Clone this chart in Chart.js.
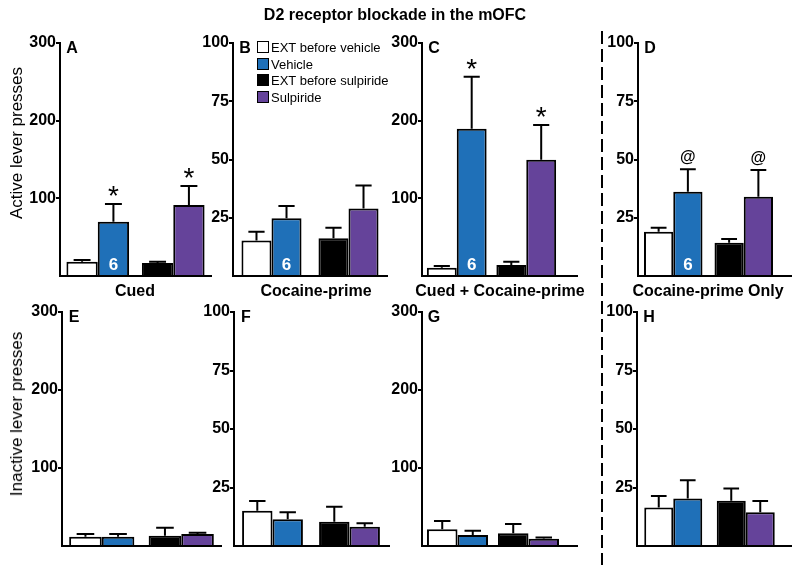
<!DOCTYPE html>
<html>
<head>
<meta charset="utf-8">
<script src="https://cdn.jsdelivr.net/npm/chart.js@4/dist/chart.umd.min.js"></script>
<style>
  body { margin: 0; background: #fff; width: 800px; height: 565px; position: relative; overflow: hidden;
         font-family: Arial, "Liberation Sans", sans-serif; color: #000; }
  canvas { position: absolute; }
  .t { position: absolute; white-space: nowrap; transform: translate(-50%, -50%); }
  .b { font-weight: bold; }
  .dash { position: absolute; left: 601px; top: 31px; width: 2px; height: 534px;
          background: repeating-linear-gradient(to bottom, #000 0 13px, transparent 13px 18px); }
  .leg { position: absolute; font-size: 13px; white-space: nowrap; }
  .leg span { display: inline-block; width: 10px; height: 10px; border: 1.5px solid #000; vertical-align: -1px; margin-right: 2px; }
</style>
</head>
<body>
<script>
// series and panels
var seriesNames = ['EXT before vehicle', 'Vehicle', 'EXT before sulpiride', 'Sulpiride'];
var seriesColors = ['#ffffff', '#1f70b8', '#000000', '#65439a'];
var panelLetters = ['A', 'B', 'C', 'D', 'E', 'F', 'G', 'H'];
var testNames = ['Cued', 'Cocaine-prime', 'Cued + Cocaine-prime', 'Cocaine-prime Only'];
var yMax = [300, 100, 300, 100, 300, 100, 300, 100];
var yStep = [100, 25, 100, 25, 100, 25, 100, 25];

// means per panel (A-D active, E-H inactive)
var extVehicle   = [18.4, 15.2, 10.7, 19.0, 11.9, 15.1, 21.4, 16.5];
var vehicle      = [69.9, 24.8, 189.6, 36.2, 11.9, 11.4, 14.1, 20.3];
var extSulpiride = [16.7, 16.2, 14.2, 14.3, 13.2, 10.4, 16.2, 19.3];
var sulpiride    = [91.4, 29.0, 149.7, 34.0, 15.4, 8.2, 9.3, 14.4];
// SEM
var extVehicleSem   = [2.2, 3.8, 2.2, 1.7, 3.5, 4.1, 10.6, 4.9];
var vehicleSem      = [22.8, 5.2, 67.0, 9.6, 3.5, 3.0, 5.5, 7.8];
var extSulpirideSem = [1.7, 4.5, 4.2, 1.6, 10.2, 6.4, 11.9, 5.3];
var sulpirideSem    = [24.5, 9.8, 44.7, 11.5, 1.6, 1.5, 1.6, 4.8];

var nLabel  = ['6', '6', '6', '6', '', '', '', ''];
var sigMark = ['*', '', '*', '@', '', '', '', ''];

// plot area of each panel
var boxes = [
  { x: 60,  y: 43,  w: 151, h: 233, ext: 0,  cat: 0.83 },
  { x: 233, y: 43,  w: 154, h: 233, ext: 0,  cat: 0.78 },
  { x: 422, y: 43,  w: 139, h: 233, ext: 17, cat: 0.86 },
  { x: 638, y: 43,  w: 141, h: 233, ext: 13, cat: 0.83 },
  { x: 62,  y: 312, w: 159, h: 234, ext: 0,  cat: 0.82 },
  { x: 234, y: 312, w: 154, h: 234, ext: 2,  cat: 0.79 },
  { x: 422, y: 312, w: 142, h: 234, ext: 14, cat: 0.86 },
  { x: 637, y: 312, w: 145, h: 234, ext: 10, cat: 0.80 }
];

var errorBars = {
  id: 'errorBars',
  afterDatasetsDraw: function (chart, args, opts) {
    var ctx = chart.ctx, y = chart.scales.y, area = chart.chartArea;
    ctx.save();
    ctx.strokeStyle = '#000';
    ctx.lineWidth = 2;
    chart.data.datasets.forEach(function (ds, di) {
      chart.getDatasetMeta(di).data.forEach(function (bar, i) {
        var top = y.getPixelForValue(ds.data[i] + ds.sem[i]);
        var half = bar.width * 0.27;
        ctx.beginPath();
        ctx.moveTo(bar.x, bar.y);
        ctx.lineTo(bar.x, top);
        ctx.moveTo(bar.x - half, top);
        ctx.lineTo(bar.x + half, top);
        ctx.stroke();
        if (di === 1) {
          ctx.textAlign = 'center';
          if (opts.mark === '*') {
            ctx.fillStyle = '#000';
            ctx.font = '28px Arial';
            ctx.fillText('*', bar.x, top + 1);
          } else if (opts.mark === '@') {
            ctx.fillStyle = '#000';
            ctx.font = 'bold 16px Arial';
            ctx.fillText('@', bar.x, top - 7);
          }
          if (i === 0 && opts.n) {
            ctx.fillStyle = '#fff';
            ctx.font = 'bold 17px Arial';
            ctx.fillText(opts.n, bar.x, area.bottom - 6);
          }
        }
      });
    });
    if (opts.ext) {
      ctx.beginPath();
      ctx.moveTo(area.right - 1, area.bottom);
      ctx.lineTo(area.right + opts.ext, area.bottom);
      ctx.stroke();
    }
    ctx.restore();
  }
};

boxes.forEach(function (b, p) {
  var cv = document.createElement('canvas');
  var padTop = 12, padBot = 12, yw = 45, padRight = b.ext + 4;
  cv.width = yw + b.w + padRight;
  cv.height = padTop + b.h + padBot;
  cv.style.left = (b.x - yw) + 'px';
  cv.style.top = (b.y - padTop) + 'px';
  document.body.appendChild(cv);

  new Chart(cv, {
    type: 'bar',
    data: {
      labels: ['Vehicle', 'Sulpiride'],
      datasets: [{
        label: 'EXT',
        data: [extVehicle[p], extSulpiride[p]],
        sem: [extVehicleSem[p], extSulpirideSem[p]],
        backgroundColor: [seriesColors[0], seriesColors[2]]
      }, {
        label: 'Test',
        data: [vehicle[p], sulpiride[p]],
        sem: [vehicleSem[p], sulpirideSem[p]],
        backgroundColor: [seriesColors[1], seriesColors[3]]
      }]
    },
    options: {
      responsive: false,
      animation: false,
      devicePixelRatio: 1,
      borderColor: '#000',
      borderWidth: 2,
      categoryPercentage: b.cat,
      barPercentage: 1,
      layout: { padding: { top: padTop, bottom: padBot, right: padRight, left: 0 } },
      plugins: {
        legend: { display: false },
        tooltip: { enabled: false },
        errorBars: { mark: sigMark[p], n: nLabel[p], ext: b.ext }
      },
      scales: {
        x: {
          ticks: { display: false },
          grid: { display: false },
          border: { display: true, color: '#000', width: 2 },
          afterFit: function (s) { s.height = 0; }
        },
        y: {
          min: 0,
          max: yMax[p],
          ticks: {
            stepSize: yStep[p],
            padding: 0,
            color: '#000',
            font: { family: 'Arial', size: 16, weight: 'bold' },
            callback: function (v) { return v === 0 ? '' : v; }
          },
          grid: {
            drawOnChartArea: false,
            tickLength: 4,
            lineWidth: 2,
            color: function (c) { return c.tick && c.tick.value === 0 ? 'rgba(0,0,0,0)' : '#000'; }
          },
          border: { display: true, color: '#000', width: 2 },
          afterFit: function (s) { s.width = yw; }
        }
      }
    },
    plugins: [errorBars]
  });

  var letter = document.createElement('div');
  letter.className = 't b';
  letter.style.fontSize = '16px';
  letter.style.left = (b.x + 12) + 'px';
  letter.style.top = (b.y + 5) + 'px';
  letter.textContent = panelLetters[p];
  document.body.appendChild(letter);
});

// text around the panels
function addText(txt, cx, cy, css) {
  var d = document.createElement('div');
  d.className = 't';
  d.textContent = txt;
  d.style.left = cx + 'px';
  d.style.top = cy + 'px';
  d.style.cssText += css;
  document.body.appendChild(d);
  return d;
}
addText('D2 receptor blockade in the mOFC', 395, 15, 'font-weight:bold;font-size:16px;');
addText('Active lever presses', 17, 143, 'font-size:17px;transform:translate(-50%,-50%) rotate(-90deg);');
addText('Inactive lever presses', 17, 414, 'font-size:17px;transform:translate(-50%,-50%) rotate(-90deg);');
var labelX = [135, 316, 500, 708];
testNames.forEach(function (n, i) { addText(n, labelX[i], 291, 'font-weight:bold;font-size:16px;'); });

var dash = document.createElement('div');
dash.className = 'dash';
document.body.appendChild(dash);

seriesNames.forEach(function (n, i) {
  var d = document.createElement('div');
  d.className = 'leg';
  d.style.left = '257px';
  d.style.top = (40 + i * 16.7) + 'px';
  d.innerHTML = '<span style="background:' + seriesColors[i] + '"></span>';
  d.appendChild(document.createTextNode(n));
  document.body.appendChild(d);
});
</script>
</body>
</html>
